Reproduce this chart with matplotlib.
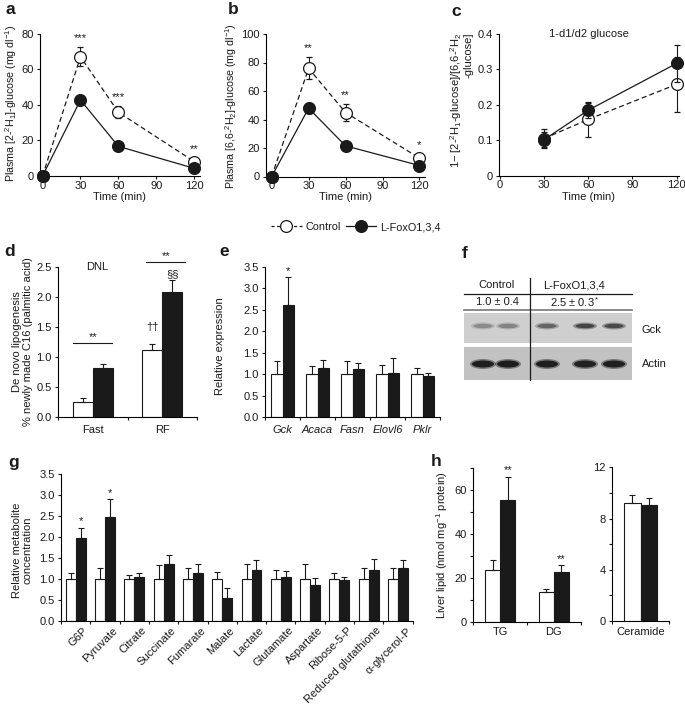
import numpy as np
import matplotlib.pyplot as plt
from matplotlib.lines import Line2D
from matplotlib.patches import Rectangle, Ellipse

plt.rcParams['font.family'] = ['Liberation Sans', 'DejaVu Sans']
plt.rcParams['mathtext.fontset'] = 'custom'
plt.rcParams['mathtext.rm'] = 'Liberation Sans'
plt.rcParams['mathtext.it'] = 'Liberation Sans:italic'
plt.rcParams['mathtext.default'] = 'regular'
plt.rcParams['font.size'] = 8
plt.rcParams['axes.linewidth'] = 0.8
plt.rcParams['xtick.major.width'] = 0.8
plt.rcParams['ytick.major.width'] = 0.8
plt.rcParams['xtick.major.size'] = 2.5
plt.rcParams['ytick.major.size'] = 2.5
plt.rcParams['xtick.major.pad'] = 0.8
plt.rcParams['ytick.major.pad'] = 2

ink = '#1a1a1a'

# --- a: plasma [2-2H1]-glucose
time = [0, 30, 60, 120]
a_ctrl = [0, 67.2, 35.9, 8.1]
a_ctrl_err = [0, 5.5, 3.3, 2.0]
a_ko = [0, 42.8, 16.7, 4.3]
a_ko_err = [0, 2.3, 1.0, 1.0]
a_stars = ['', '***', '***', '**']

# --- b: plasma [6,6-2H2]-glucose
b_ctrl = [0, 75.9, 44.9, 12.9]
b_ctrl_err = [0, 7.7, 6.0, 2.5]
b_ko = [0, 47.9, 21.5, 7.7]
b_ko_err = [0, 3.5, 1.2, 1.0]
b_stars = ['', '**', '**', '*']

# --- c: 1-d1/d2 glucose
c_time = [30, 60, 120]
c_ctrl = [0.105, 0.159, 0.258]
c_ctrl_err = [0.028, 0.049, 0.077]
c_ko = [0.102, 0.185, 0.317]
c_ko_err = [0.020, 0.021, 0.052]

# --- d: DNL
d_groups = ['Fast', 'RF']
d_ctrl = [0.25, 1.11]
d_ctrl_err = [0.06, 0.11]
d_ko = [0.82, 2.09]
d_ko_err = [0.06, 0.19]

# --- e: relative expression
e_genes = ['Gck', 'Acaca', 'Fasn', 'Elovl6', 'Pklr']
e_ctrl = [1.0, 1.0, 1.0, 1.0, 1.0]
e_ctrl_err = [0.31, 0.18, 0.31, 0.22, 0.15]
e_ko = [2.62, 1.15, 1.11, 1.03, 0.96]
e_ko_err = [0.64, 0.19, 0.16, 0.35, 0.07]

# --- f: western blot band intensity (0..1)
f_gck_bands = [0.35, 0.4, 0.6, 0.85, 0.8]
f_actin_bands = [0.9, 0.92, 0.9, 0.88, 0.9]

# --- g: metabolites
g_names = ['G6P', 'Pyruvate', 'Citrate', 'Succinate', 'Fumarate', 'Malate',
           'Lactate', 'Glutamate', 'Aspartate', 'Ribose-5-P',
           'Reduced glutathione', r'$\alpha$-glycerol-P']
g_ctrl = [1.0] * 12
g_ctrl_err = [0.15, 0.26, 0.10, 0.34, 0.26, 0.18, 0.37, 0.22, 0.37, 0.14, 0.26, 0.26]
g_ko = [1.97, 2.47, 1.04, 1.35, 1.15, 0.55, 1.22, 1.04, 0.87, 0.98, 1.22, 1.26]
g_ko_err = [0.26, 0.44, 0.10, 0.22, 0.22, 0.23, 0.23, 0.15, 0.16, 0.08, 0.27, 0.19]
g_stars = ['*', '*', '', '', '', '', '', '', '', '', '', '']

# --- h: liver lipid
h_groups = ['TG', 'DG']
h_ctrl = [23.5, 13.5]
h_ctrl_err = [4.6, 1.2]
h_ko = [55.5, 22.8]
h_ko_err = [10.6, 3.0]
cer_ctrl = [9.19]
cer_ctrl_err = [0.67]
cer_ko = [9.06]
cer_ko_err = [0.52]

W, H = 685, 707
fig = plt.figure(figsize=(W / 100, H / 100), dpi=100)


def px_axes(l, t, r, b):
    ax = fig.add_axes([l / W, 1 - b / H, (r - l) / W, (b - t) / H])
    ax.box_px = (l, t, r, b)
    for s in ['top', 'right']:
        ax.spines[s].set_visible(False)
    ax.tick_params(colors=ink, labelcolor=ink)
    return ax


def ylab(ax, text, px, py, **kw):
    # px = right edge of the rotated label
    l, t, r, b = ax.box_px
    ax.set_ylabel(text, color=ink, **kw)
    ax.yaxis.set_label_coords((px - l) / (r - l), (b - py) / (b - t))


def xlab(ax, text, py):
    l, t, r, b = ax.box_px
    ax.set_xlabel(text, color=ink)
    ax.xaxis.set_label_coords(0.5, (b - py) / (b - t))


def panel_label(ch, px, py):
    fig.text(px / W, 1 - py / H, ch, fontsize=12.5, fontweight='bold', ha='left', va='center', color=ink)


def line_panel(ax, t, ctrl, ctrl_err, ko, ko_err):
    c1 = ax.errorbar(t, ctrl, yerr=ctrl_err, fmt='o', ls='--', dashes=(4, 2.5), color=ink,
                     mfc='white', mec=ink, ms=8.5, mew=0.9, lw=0.9, capsize=2.5,
                     elinewidth=0.8, capthick=0.8, zorder=3)
    c2 = ax.errorbar(t, ko, yerr=ko_err, fmt='o', ls='-', color=ink, mfc=ink, mec=ink,
                     ms=8.5, mew=0.9, lw=0.9, capsize=2.5, elinewidth=0.8,
                     capthick=0.8, zorder=4)
    for c in (c1, c2):
        for art in c.get_children():
            art.set_clip_on(False)


def star_marks(ax, xs, tops, stars, off=3):
    for x, y, s in zip(xs, tops, stars):
        if s:
            ax.annotate(s, (x, y), xytext=(0, off), textcoords='offset points',
                        ha='center', va='bottom', fontsize=8, color=ink,
                        annotation_clip=False)


def bar_panel(ax, labels, ctrl, ctrl_err, ko, ko_err, w, italic=False, pad=5.5):
    n = len(ctrl)
    x = np.arange(n)
    ax.bar(x - w / 2, ctrl, w, color='white', edgecolor=ink, lw=0.8, zorder=2)
    ax.bar(x + w / 2, ko, w, color=ink, edgecolor=ink, lw=0.8, zorder=2)
    ax.errorbar(x - w / 2, ctrl, yerr=[np.zeros(n), ctrl_err], fmt='none', ecolor=ink,
                elinewidth=0.8, capsize=2.5, capthick=0.8, zorder=3)
    ax.errorbar(x + w / 2, ko, yerr=[np.zeros(n), ko_err], fmt='none', ecolor=ink,
                elinewidth=0.8, capsize=2.5, capthick=0.8, zorder=3)
    ax.set_xlim(-0.5, n - 0.5)
    ax.set_xticks(np.arange(n + 1) - 0.5)
    ax.set_xticklabels([])
    ax.set_xticks(x, minor=True)
    ax.set_xticklabels(labels, minor=True, style='italic' if italic else 'normal')
    ax.tick_params(axis='x', which='minor', length=0, pad=pad, labelcolor=ink)
    return x


# ================= a =================
ax = px_axes(40, 34, 200, 176)
line_panel(ax, time, a_ctrl, a_ctrl_err, a_ko, a_ko_err)
ax.set_xlim(-2, 124.5)
ax.set_ylim(0, 80)
ax.set_xticks([0, 30, 60, 90, 120])
ax.set_yticks([0, 20, 40, 60, 80])
star_marks(ax, time, np.add(a_ctrl, a_ctrl_err), a_stars)
ylab(ax, r'Plasma [2-$^2$H$_1$]-glucose (mg dl$^{-1}$)', 19, 104, fontsize=7.7)
xlab(ax, 'Time (min)', 192)
panel_label('a', 5, 10)

# ================= b =================
ax = px_axes(266, 34, 425, 176.5)
line_panel(ax, time, b_ctrl, b_ctrl_err, b_ko, b_ko_err)
ax.set_xlim(-4.6, 124.5)
ax.set_ylim(0, 100)
ax.set_xticks([0, 30, 60, 90, 120])
ax.set_yticks([0, 20, 40, 60, 80, 100])
star_marks(ax, time, np.add(b_ctrl, b_ctrl_err), b_stars)
ylab(ax, r'Plasma [6,6-$^2$H$_2$]-glucose (mg dl$^{-1}$)', 239, 106, fontsize=7.7)
xlab(ax, 'Time (min)', 192)
panel_label('b', 228, 9)

# ================= c =================
ax = px_axes(499, 34, 679, 175.7)
line_panel(ax, c_time, c_ctrl, c_ctrl_err, c_ko, c_ko_err)
ax.set_xlim(-0.7, 121.6)
ax.set_ylim(0, 0.4)
ax.set_xticks([0, 30, 60, 90, 120])
ax.set_yticks([0, 0.1, 0.2, 0.3, 0.4])
ax.set_yticklabels(['0', '0.1', '0.2', '0.3', '0.4'])
ax.text(0.5, 1.0, '1-d1/d2 glucose', transform=ax.transAxes, ha='center', va='center',
        color=ink)
ylab(ax, '1\u2212 [2-$^2$H$_1$-glucose]/[6,6-$^2$H$_2$\n-glucose]', 474, 100,
     multialignment='right', linespacing=1.0)
xlab(ax, 'Time (min)', 192)
panel_label('c', 451, 11)

# legend
h_ctrl_line = Line2D([], [], color=ink, ls='--', dashes=(2.5, 2), marker='o', mfc='white',
                     mec=ink, ms=8.5, mew=0.9, lw=0.9)
h_ko_line = Line2D([], [], color=ink, ls='-', marker='o', mfc=ink, mec=ink, ms=8.5,
                   mew=0.9, lw=0.9)
fig.legend([h_ctrl_line, h_ko_line], ['Control', 'L-FoxO1,3,4'], loc='center',
           bbox_to_anchor=(356 / W, 1 - 227 / H), ncol=2, frameon=False, fontsize=7.8,
           handlelength=2.8, columnspacing=0.5, handletextpad=0.35, labelcolor=ink)

# ================= d =================
ax = px_axes(58, 267, 197, 417)
xd = bar_panel(ax, d_groups, d_ctrl, d_ctrl_err, d_ko, d_ko_err, 0.29)
ax.set_ylim(0, 2.5)
ax.set_yticks([0, 0.5, 1.0, 1.5, 2.0, 2.5])
ax.set_yticklabels(['0.0', '0.5', '1.0', '1.5', '2.0', '2.5'])
ax.text(0.28, 1.0, 'DNL', transform=ax.transAxes, ha='center', va='center', color=ink)
ax.plot([-0.28, 0.28], [1.23, 1.23], color=ink, lw=0.8, clip_on=False)
ax.text(0.0, 1.34, '**', ha='center', va='center', color=ink)
ax.plot([0.76, 1.33], [2.58, 2.58], color=ink, lw=0.8, clip_on=False)
ax.text(1.05, 2.68, '**', ha='center', va='center', color=ink, clip_on=False)
ax.text(xd[1] - 0.145, 1.5, '\u2020\u2020', ha='center', va='center', color=ink)
ax.text(xd[1] + 0.145, 2.38, '\u00a7\u00a7', ha='center', va='center', color=ink)
ylab(ax, 'De novo lipogenesis\n% newly made C16 (palmitic acid)', 33, 342,
     linespacing=1.1)
panel_label('d', 4, 252)

# ================= e =================
ax = px_axes(265, 267, 440, 417)
xe = bar_panel(ax, e_genes, e_ctrl, e_ctrl_err, e_ko, e_ko_err, 0.33, italic=True)
ax.set_ylim(0, 3.5)
ax.set_yticks(np.arange(0, 3.51, 0.5))
ax.set_yticklabels(['%.1f' % v for v in np.arange(0, 3.51, 0.5)])
star_marks(ax, xe + 0.165, np.add(e_ko, e_ko_err), ['*', '', '', '', ''], off=1)
ylab(ax, 'Relative expression', 225, 346)
panel_label('e', 219, 252)

# ================= f =================
axf = fig.add_axes([455 / W, 1 - 390 / H, 230 / W, 120 / H])
axf.set_xlim(455, 685)
axf.set_ylim(390, 270)
axf.axis('off')
lanes = [483, 508, 547, 585, 614]
axf.text(497, 285, 'Control', ha='center', va='center', color=ink)
axf.text(574, 285, 'L-FoxO1,3,4', ha='center', va='center', color=ink)
axf.plot([464, 632], [293.5, 293.5], color=ink, lw=0.9)
axf.text(497, 302, '1.0 \u00b1 0.4', ha='center', va='center', color=ink)
axf.text(575, 302, '2.5 \u00b1 0.3$^*$', ha='center', va='center', color=ink)
axf.plot([464, 632], [309.5, 309.5], color='#777777', lw=1.2)
axf.add_patch(Rectangle((464, 313), 168, 30, color='#cfcfcf', lw=0))
axf.add_patch(Rectangle((464, 347), 168, 33, color='#c2c2c2', lw=0))
for xl, v in zip(lanes, f_gck_bands):
    axf.add_patch(Ellipse((xl, 326), 24, 7, color='#303030', alpha=v * 0.45, lw=0))
    axf.add_patch(Ellipse((xl, 326), 19, 4.5, color='#202020', alpha=v * 0.8, lw=0))
for xl, v in zip(lanes, f_actin_bands):
    axf.add_patch(Ellipse((xl, 364), 26, 10, color='#252525', alpha=v * 0.5, lw=0))
    axf.add_patch(Ellipse((xl, 364), 22, 7, color='#151515', alpha=v, lw=0))
axf.plot([529.5, 529.5], [278, 380], color=ink, lw=0.9)
axf.text(642, 330, 'Gck', ha='left', va='center', color=ink)
axf.text(642, 364, 'Actin', ha='left', va='center', color=ink)
panel_label('f', 462, 253)

# ================= g =================
ax = px_axes(61, 474.3, 412.7, 621)
xg = np.arange(len(g_names))
ax.bar(xg - 0.17, g_ctrl, 0.34, color='white', edgecolor=ink, lw=0.8, zorder=2)
ax.bar(xg + 0.17, g_ko, 0.34, color=ink, edgecolor=ink, lw=0.8, zorder=2)
ax.errorbar(xg - 0.17, g_ctrl, yerr=[np.zeros(12), g_ctrl_err], fmt='none', ecolor=ink,
            elinewidth=0.8, capsize=2.5, capthick=0.8, zorder=3)
ax.errorbar(xg + 0.17, g_ko, yerr=[np.zeros(12), g_ko_err], fmt='none', ecolor=ink,
            elinewidth=0.8, capsize=2.5, capthick=0.8, zorder=3)
ax.set_xlim(-0.5, 11.5)
ax.set_xticks(np.arange(13) - 0.5)
ax.set_xticklabels([])
ax.set_xticks(xg + 0.25, minor=True)
ax.set_xticklabels(g_names, minor=True, rotation=45, ha='right', rotation_mode='anchor')
ax.tick_params(axis='x', which='minor', length=0, pad=3, labelcolor=ink)
ax.set_ylim(0, 3.5)
ax.set_yticks(np.arange(0, 3.51, 0.5))
ax.set_yticklabels(['%.1f' % v for v in np.arange(0, 3.51, 0.5)])
star_marks(ax, xg + 0.17, np.add(g_ko, g_ko_err), g_stars, off=1)
ylab(ax, 'Relative metabolite\nconcentration', 33, 550, linespacing=1.1)
panel_label('g', 8, 463)

# ================= h =================
ax = px_axes(473.3, 468.3, 580.7, 621.5)
xh = bar_panel(ax, h_groups, h_ctrl, h_ctrl_err, h_ko, h_ko_err, 0.28, pad=4)
ax.set_ylim(0, 70)
ax.set_yticks(np.arange(0, 71, 10))
ax.set_yticklabels(['0', '', '20', '', '40', '', '60', ''])
star_marks(ax, xh + 0.14, np.add(h_ko, h_ko_err), ['**', '**'], off=1)
ylab(ax, 'Liver lipid (nmol mg$^{-1}$ protein)', 450, 545)
panel_label('h', 431, 462)

ax = px_axes(611.7, 467.3, 669.3, 621)
bar_panel(ax, ['Ceramide'], cer_ctrl, cer_ctrl_err, cer_ko, cer_ko_err, 0.28, pad=4)
ax.set_ylim(0, 12)
ax.set_yticks(np.arange(0, 12.1, 2))
ax.set_yticklabels(['0', '', '4', '', '8', '', '12'])

fig.savefig('out.png', dpi=100)
